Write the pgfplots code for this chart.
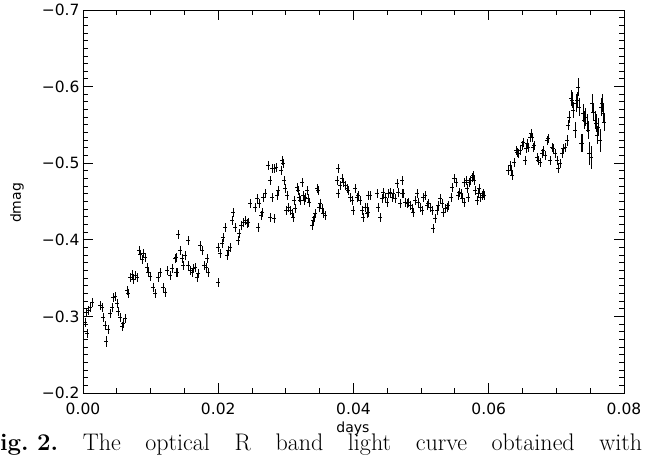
\documentclass[border=0pt]{standalone}
\usepackage{fontspec}
\usepackage{pgfplots}
\pgfplotsset{compat=1.18}
\usepackage{pgfplotstable}
\newfontfamily\idl{DejaVu Sans}
\pgfplotstableread{
x y e
0.00030 -0.2922 0.006
0.00044 -0.3053 0.006
0.00059 -0.2778 0.006
0.00074 -0.3079 0.006
0.00104 -0.3118 0.006
0.00133 -0.3183 0.006
0.00251 -0.3144 0.006
0.00281 -0.3118 0.006
0.00296 -0.2987 0.006
0.00325 -0.2883 0.006
0.00340 -0.2673 0.007
0.00370 -0.2830 0.006
0.00399 -0.3040 0.006
0.00429 -0.3118 0.006
0.00444 -0.3249 0.006
0.00473 -0.3262 0.006
0.00503 -0.3170 0.006
0.00518 -0.3066 0.006
0.00547 -0.2987 0.006
0.00577 -0.2870 0.006
0.00591 -0.2909 0.006
0.00621 -0.2974 0.006
0.00651 -0.3340 0.006
0.00665 -0.3301 0.006
0.00695 -0.3510 0.006
0.00725 -0.3549 0.006
0.00739 -0.3484 0.006
0.00769 -0.3536 0.006
0.00799 -0.3510 0.006
0.00828 -0.3863 0.006
0.00843 -0.3811 0.006
0.00872 -0.3745 0.006
0.00887 -0.3824 0.006
0.00917 -0.3771 0.006
0.00946 -0.3641 0.006
0.00961 -0.3575 0.006
0.00991 -0.3523 0.006
0.01035 -0.3379 0.006
0.01065 -0.3301 0.006
0.01109 -0.3510 0.006
0.01139 -0.3575 0.006
0.01183 -0.3379 0.006
0.01213 -0.3314 0.006
0.01242 -0.3602 0.006
0.01286 -0.3536 0.006
0.01316 -0.3628 0.006
0.01360 -0.3758 0.006
0.01375 -0.3771 0.006
0.01375 -0.3575 0.006
0.01390 -0.3575 0.006
0.01405 -0.4072 0.006
0.01434 -0.3863 0.006
0.01464 -0.3758 0.006
0.01479 -0.3667 0.006
0.01508 -0.3798 0.006
0.01553 -0.3994 0.006
0.01553 -0.3667 0.006
0.01582 -0.3602 0.006
0.01612 -0.3575 0.006
0.01627 -0.3628 0.006
0.01656 -0.3641 0.006
0.01686 -0.3510 0.006
0.01701 -0.3562 0.006
0.01730 -0.3928 0.006
0.01760 -0.3863 0.006
0.01789 -0.3667 0.006
0.01819 -0.3641 0.006
0.01834 -0.3758 0.006
0.01848 -0.3575 0.006
0.01996 -0.3445 0.006
0.01996 -0.3902 0.006
0.02026 -0.3824 0.006
0.02055 -0.3954 0.006
0.02070 -0.4033 0.006
0.02100 -0.4164 0.006
0.02129 -0.3798 0.006
0.02144 -0.3863 0.006
0.02174 -0.3902 0.006
0.02203 -0.4255 0.006
0.02218 -0.4360 0.006
0.02248 -0.4164 0.006
0.02292 -0.3994 0.006
0.02307 -0.4085 0.006
0.02336 -0.4190 0.006
0.02366 -0.4229 0.006
0.02396 -0.4255 0.006
0.02425 -0.4216 0.006
0.02440 -0.4229 0.006
0.02469 -0.4477 0.006
0.02543 -0.4425 0.006
0.02573 -0.4543 0.006
0.02588 -0.4164 0.006
0.02603 -0.4477 0.006
0.02632 -0.4320 0.006
0.02647 -0.4360 0.006
0.02662 -0.4556 0.006
0.02691 -0.4608 0.006
0.02736 -0.4974 0.006
0.02765 -0.4778 0.006
0.02765 -0.4294 0.006
0.02795 -0.4556 0.006
0.02795 -0.4935 0.006
0.02824 -0.4281 0.006
0.02824 -0.4935 0.006
0.02854 -0.4948 0.006
0.02869 -0.4582 0.006
0.02883 -0.4647 0.006
0.02928 -0.4909 0.006
0.02943 -0.5040 0.006
0.02957 -0.5000 0.006
0.02972 -0.4778 0.006
0.02987 -0.4673 0.006
0.03002 -0.4386 0.006
0.03017 -0.4582 0.006
0.03031 -0.4425 0.006
0.03061 -0.4386 0.006
0.03090 -0.4347 0.006
0.03105 -0.4294 0.006
0.03120 -0.4517 0.006
0.03135 -0.4412 0.006
0.03164 -0.4687 0.006
0.03179 -0.4647 0.006
0.03194 -0.4556 0.006
0.03209 -0.4517 0.006
0.03238 -0.4752 0.006
0.03253 -0.4582 0.006
0.03268 -0.4517 0.006
0.03283 -0.4556 0.006
0.03312 -0.4647 0.006
0.03327 -0.4543 0.006
0.03342 -0.4490 0.006
0.03386 -0.4190 0.006
0.03401 -0.4255 0.006
0.03416 -0.4294 0.006
0.03430 -0.4347 0.006
0.03460 -0.4673 0.006
0.03475 -0.4647 0.006
0.03490 -0.4425 0.006
0.03505 -0.4477 0.006
0.03534 -0.4412 0.006
0.03549 -0.4347 0.006
0.03578 -0.4320 0.006
0.03756 -0.4778 0.006
0.03771 -0.4935 0.006
0.03771 -0.4608 0.006
0.03800 -0.4713 0.006
0.03830 -0.4804 0.006
0.03845 -0.4752 0.006
0.03874 -0.4713 0.006
0.03904 -0.4673 0.006
0.03919 -0.4647 0.006
0.03948 -0.4556 0.006
0.03978 -0.4517 0.006
0.03993 -0.4386 0.006
0.04022 -0.4673 0.006
0.04052 -0.4556 0.006
0.04066 -0.4582 0.006
0.04096 -0.4517 0.006
0.04126 -0.4386 0.006
0.04140 -0.4294 0.006
0.04170 -0.4425 0.006
0.04200 -0.4347 0.006
0.04214 -0.4582 0.006
0.04200 -0.4425 0.006
0.04214 -0.4360 0.006
0.04244 -0.4582 0.006
0.04347 -0.4608 0.006
0.04362 -0.4425 0.006
0.04392 -0.4294 0.006
0.04421 -0.4543 0.006
0.04436 -0.4621 0.006
0.04466 -0.4556 0.006
0.04495 -0.4490 0.006
0.04510 -0.4608 0.006
0.04540 -0.4621 0.006
0.04569 -0.4556 0.006
0.04584 -0.4608 0.006
0.04614 -0.4543 0.006
0.04643 -0.4739 0.006
0.04658 -0.4621 0.006
0.04688 -0.4477 0.006
0.04717 -0.4608 0.006
0.04717 -0.4778 0.006
0.04732 -0.4608 0.006
0.04761 -0.4490 0.006
0.04791 -0.4477 0.006
0.04806 -0.4490 0.006
0.04835 -0.4451 0.006
0.04865 -0.4412 0.006
0.04880 -0.4360 0.006
0.04909 -0.4517 0.006
0.04939 -0.4608 0.006
0.04954 -0.4490 0.006
0.04983 -0.4425 0.006
0.05013 -0.4386 0.006
0.05028 -0.4556 0.006
0.05057 -0.4582 0.006
0.05087 -0.4451 0.006
0.05102 -0.4477 0.006
0.05131 -0.4425 0.006
0.05161 -0.4386 0.006
0.05175 -0.4151 0.006
0.05205 -0.4281 0.006
0.05235 -0.4386 0.006
0.05249 -0.4451 0.006
0.05279 -0.4543 0.006
0.05309 -0.4477 0.006
0.05323 -0.4360 0.006
0.05353 -0.4412 0.006
0.05382 -0.4425 0.006
0.05397 -0.4451 0.006
0.05442 -0.4556 0.006
0.05456 -0.4687 0.006
0.05486 -0.4804 0.006
0.05516 -0.4752 0.006
0.05545 -0.4582 0.006
0.05560 -0.4621 0.006
0.05590 -0.4608 0.006
0.05604 -0.4543 0.006
0.05634 -0.4752 0.006
0.05634 -0.4490 0.006
0.05663 -0.4778 0.006
0.05678 -0.4673 0.006
0.05693 -0.4556 0.006
0.05708 -0.4752 0.006
0.05723 -0.4778 0.006
0.05752 -0.4817 0.006
0.05767 -0.4843 0.006
0.05782 -0.4778 0.006
0.05797 -0.4647 0.006
0.05826 -0.4517 0.006
0.05841 -0.4608 0.006
0.05856 -0.4673 0.006
0.05870 -0.4556 0.006
0.05900 -0.4582 0.006
0.05915 -0.4608 0.006
0.05930 -0.4582 0.006
0.06284 -0.4909 0.006
0.06314 -0.4974 0.006
0.06329 -0.4909 0.006
0.06344 -0.4843 0.006
0.06373 -0.5013 0.006
0.06403 -0.5170 0.006
0.06418 -0.5144 0.006
0.06432 -0.5131 0.006
0.06462 -0.5170 0.006
0.06492 -0.5236 0.006
0.06506 -0.5275 0.006
0.06536 -0.5040 0.006
0.06551 -0.5196 0.006
0.06565 -0.5262 0.006
0.06580 -0.5209 0.006
0.06610 -0.5340 0.006
0.06625 -0.5392 0.006
0.06639 -0.5340 0.006
0.06654 -0.5209 0.006
0.06669 -0.5236 0.006
0.06713 -0.5079 0.006
0.06728 -0.5040 0.006
0.06758 -0.5013 0.006
0.06787 -0.5131 0.006
0.06802 -0.5170 0.006
0.06832 -0.5105 0.006
0.06861 -0.5301 0.006
0.06876 -0.5327 0.006
0.06906 -0.5040 0.006
0.06935 -0.5209 0.006
0.06950 -0.5196 0.006
0.06979 -0.5131 0.006
0.07009 -0.5040 0.006
0.07024 -0.4935 0.006
0.07053 -0.5000 0.006
0.07083 -0.5131 0.006
0.07098 -0.5196 0.006
0.07127 -0.5209 0.006
0.07157 -0.5301 0.007
0.07172 -0.5497 0.007
0.07186 -0.5602 0.008
0.07216 -0.5850 0.010
0.07231 -0.5824 0.010
0.07246 -0.5693 0.010
0.07275 -0.5432 0.010
0.07290 -0.5785 0.012
0.07305 -0.5824 0.010
0.07320 -0.5994 0.012
0.07334 -0.5732 0.012
0.07364 -0.5262 0.012
0.07379 -0.5262 0.012
0.07394 -0.5654 0.012
0.07408 -0.5562 0.012
0.07423 -0.5602 0.012
0.07453 -0.5523 0.012
0.07467 -0.5432 0.012
0.07482 -0.5131 0.015
0.07512 -0.5079 0.015
0.07527 -0.5785 0.012
0.07541 -0.5667 0.012
0.07571 -0.5562 0.012
0.07586 -0.5523 0.012
0.07601 -0.5366 0.012
0.07615 -0.5471 0.012
0.07645 -0.5301 0.015
0.07660 -0.5732 0.012
0.07675 -0.5785 0.012
0.07689 -0.5654 0.012
0.07704 -0.5536 0.012
}\lc
\begin{document}
\frenchspacing
\begin{tikzpicture}
\useasboundingbox (0,0) rectangle (657pt,458pt);
\begin{axis}[
  at={(83pt,65pt)}, anchor=south west,
  scale only axis, width=541pt, height=383pt,
  xmin=0, xmax=0.08, ymin=-0.7, ymax=-0.2, y dir=reverse,
  scaled x ticks=false, scaled y ticks=false,
  xtick={0,0.02,0.04,0.06,0.08},
  xticklabels={0.00,0.02,0.04,0.06,0.08},
  ytick={-0.7,-0.6,-0.5,-0.4,-0.3,-0.2},
  yticklabels={−0.7,−0.6,−0.5,−0.4,−0.3,−0.2},
  minor x tick num=3, minor y tick num=9,
  tick align=inside, major tick length=10pt, minor tick length=5pt,
  axis line style={line width=0.9pt},
  every tick/.style={line width=0.9pt, black},
  ticklabel style={font=\idl\fontsize{15.5}{18}\selectfont},
  xticklabel style={yshift=-6pt},
]
\addplot[black, only marks, mark=-, mark size=2pt, mark options={line width=0.7pt},
  error bars/.cd, y dir=both, y explicit, error mark=none,
  error bar style={line width=0.8pt, black}]
  table[x=x, y=y, y error=e]{\lc};
\end{axis}
\node[font=\idl\fontsize{14}{16}\selectfont, rotate=90] at (17pt,255pt) {dmag};
\node[font=\idl\fontsize{14}{16}\selectfont] at (353pt,29pt) {days};
\node[anchor=base west, inner sep=0pt, font=\fontsize{24}{29}\selectfont] at (-17pt,7pt)
  {\makebox[659pt][s]{\textbf{Fig.\kern0.35em 2.} The optical R band light curve obtained with}};
\end{tikzpicture}
\end{document}
